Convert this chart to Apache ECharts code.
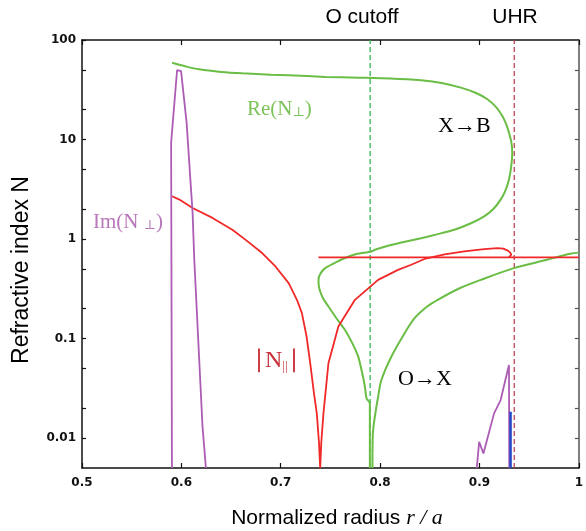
<!DOCTYPE html>
<html><head><meta charset="utf-8">
<script src="https://cdn.jsdelivr.net/npm/echarts@6/dist/echarts.min.js"></script>
<style>html,body{margin:0;padding:0;background:#fff}#c{width:586px;height:531px}</style>
</head><body><div id="c"></div>
<script>
// ---- tick values ----
const yLabelValues = [0.01, 0.1, 1, 10, 100];
const yTickValues = [0.01, 0.02, 0.05, 0.1, 0.2, 0.5, 1, 2, 5, 10, 20, 50, 100];

// ---- vertical reference lines ----
const oCutoffX = [0.79, 0.79];
const uhrX = [0.935, 0.935];
const refLineY = [0.005, 100];

// ---- Re(N_perp): X->B branch folding back to O cutoff ----
const reN1X = [0.5907, 0.605, 0.618, 0.64, 0.6613, 0.69, 0.708, 0.745, 0.778, 0.81, 0.8413, 0.862, 0.8813, 0.896, 0.908, 0.917, 0.923, 0.927, 0.9297, 0.932, 0.933, 0.932, 0.9297, 0.926, 0.9213, 0.914, 0.9047, 0.892, 0.8747, 0.858, 0.8413, 0.825, 0.808, 0.7947, 0.7913, 0.7747, 0.7647, 0.752, 0.7447, 0.740, 0.738, 0.7383, 0.7397, 0.743, 0.748, 0.756, 0.7647, 0.772, 0.778, 0.782, 0.7847, 0.7863, 0.7897, 0.7897];
const reN1Y = [59, 54, 50.7, 47.8, 46.2, 44.8, 44.2, 42.6, 41.8, 41.0, 39.3, 37.0, 33.2, 29.5, 25.4, 21.0, 17.2, 14.2, 11.7, 9.5, 7.36, 5.4, 3.96, 3.05, 2.49, 2.0, 1.69, 1.45, 1.24, 1.12, 1.02, 0.94, 0.856, 0.78, 0.75, 0.70, 0.644, 0.56, 0.51, 0.45, 0.389, 0.34, 0.297, 0.25, 0.21, 0.16, 0.122, 0.09, 0.0657, 0.045, 0.0328, 0.0251, 0.0223, 0.005];

// ---- Re(N_perp): O->X branch ----
const reN2X = [0.7923, 0.7927, 0.7947, 0.798, 0.8013, 0.8113, 0.8247, 0.8347, 0.848, 0.858, 0.88, 0.9013, 0.9347, 0.968, 0.9913, 1.0];
const reN2Y = [0.005, 0.011, 0.0163, 0.026, 0.0383, 0.0657, 0.113, 0.16, 0.212, 0.245, 0.32, 0.389, 0.51, 0.619, 0.711, 0.73];

// ---- |N_par| ----
const nPar1X = [0.5907, 0.598, 0.6113, 0.6313, 0.6513, 0.6647, 0.6813, 0.6947, 0.708, 0.7163, 0.7213, 0.726, 0.7297, 0.7335, 0.7363, 0.7385, 0.7397, 0.7408, 0.743, 0.748, 0.758, 0.7747, 0.798, 0.818, 0.8313, 0.8447, 0.865, 0.8847, 0.905, 0.918, 0.924, 0.928, 0.931, 0.932, 0.9297];
const nPar1Y = [2.69, 2.49, 2.05, 1.63, 1.24, 0.98, 0.723, 0.53, 0.36, 0.245, 0.18, 0.105, 0.0564, 0.028, 0.0177, 0.009, 0.005, 0.009, 0.0177, 0.0564, 0.132, 0.245, 0.389, 0.49, 0.551, 0.63, 0.70, 0.75, 0.79, 0.81, 0.80, 0.77, 0.73, 0.695, 0.653];
const nPar2X = [0.738, 1.0];
const nPar2Y = [0.653, 0.653];

// ---- Im(N_perp) ----
const imN1X = [0.5905, 0.5897, 0.5957, 0.5997, 0.6053, 0.6113, 0.613, 0.6213, 0.6247];
const imN1Y = [0.005, 9.3, 49.9, 48.6, 14.7, 1.83, 0.62, 0.013, 0.005];
const imN2X = [0.8973, 0.8997, 0.904, 0.9147, 0.9213, 0.9297, 0.9300];
const imN2Y = [0.005, 0.00916, 0.0070, 0.0177, 0.0241, 0.0542, 0.005];

// ---- blue spike ----
const blueX = [0.9313, 0.9313];
const blueY = [0.0184, 0.005];

const zip = (xs, ys) => xs.map((x, i) => [x, ys[i]]);

const axisColor = '#111';
const lineSeries = (xs, ys, color, width, extra) => Object.assign({
  type: 'line', data: zip(xs, ys), showSymbol: false, symbol: 'none',
  xAxisIndex: 0, yAxisIndex: 0, silent: true,
  lineStyle: { color: color, width: width }
}, extra || {});

const chart = echarts.init(document.getElementById('c'), null, { renderer: 'canvas' });

const tickFont = { fontFamily: 'DejaVu Sans', fontWeight: 'bold', fontSize: 12, color: '#111' };

chart.setOption({
  animation: false,
  backgroundColor: '#fff',
  grid: { left: 82, right: 4, top: 40, bottom: 63, containLabel: false },
  xAxis: [
    {
      type: 'value', min: 0.5, max: 1.0, interval: 0.1, position: 'bottom',
      axisLine: { show: true, onZero: false, lineStyle: { color: axisColor, width: 1.5 } },
      axisTick: { show: true, inside: true, length: 5, lineStyle: { color: axisColor, width: 1.2 } },
      axisLabel: Object.assign({ margin: 9, formatter: v => String(+v.toFixed(1)) }, tickFont),
      splitLine: { show: false }
    },
    {
      type: 'value', min: 0.5, max: 1.0, interval: 0.1, position: 'top',
      axisLine: { show: true, onZero: false, lineStyle: { color: axisColor, width: 1.5 } },
      axisTick: { show: true, inside: true, length: 5, lineStyle: { color: axisColor, width: 1.2 } },
      axisLabel: { show: false },
      splitLine: { show: false }
    }
  ],
  yAxis: [
    {
      type: 'log', logBase: 10, min: 0.005, max: 100, position: 'left',
      axisLine: { show: true, onZero: false, lineStyle: { color: axisColor, width: 1.5 } },
      axisTick: { show: true, inside: true, length: 4, customValues: yTickValues, lineStyle: { color: axisColor, width: 1.2 } },
      axisLabel: Object.assign({ margin: 6, customValues: yLabelValues, formatter: v => String(v) }, tickFont),
      splitLine: { show: false }, minorTick: { show: false }
    },
    {
      type: 'log', logBase: 10, min: 0.005, max: 100, position: 'right',
      axisLine: { show: true, onZero: false, lineStyle: { color: '#555', width: 1.5 } },
      axisTick: { show: true, inside: true, length: 4, customValues: yTickValues, lineStyle: { color: '#555', width: 1.2 } },
      axisLabel: { show: false },
      splitLine: { show: false }, minorTick: { show: false }
    }
  ],
  series: [
    lineSeries(oCutoffX, refLineY, '#2fb84c', 1.3, { lineStyle: { color: '#2fb84c', width: 1.3, type: [5, 3] } }),
    lineSeries(uhrX, refLineY, '#b8454e', 1.3, { lineStyle: { color: '#b8454e', width: 1.3, type: [5, 3] } }),
    lineSeries(reN1X, reN1Y, '#6abd45', 2, { smooth: 0.2 }),
    lineSeries(reN2X, reN2Y, '#6abd45', 2, { smooth: 0.3 }),
    lineSeries(nPar1X, nPar1Y, '#f02828', 1.8),
    lineSeries(nPar2X, nPar2Y, '#f02828', 1.8),
    lineSeries(imN1X, imN1Y, '#ac5cb4', 1.8),
    lineSeries(imN2X, imN2Y, '#ac5cb4', 1.8),
    lineSeries(blueX, blueY, '#2648c8', 2.5)
  ],
  graphic: [
    { type: 'text', x: 362, y: 17, silent: true,
      style: { text: 'O cutoff', font: '21px "Liberation Sans", Arial, sans-serif', fill: '#000', textAlign: 'center', textVerticalAlign: 'middle' } },
    { type: 'text', x: 515, y: 17, silent: true,
      style: { text: 'UHR', font: '21px "Liberation Sans", Arial, sans-serif', fill: '#000', textAlign: 'center', textVerticalAlign: 'middle' } },
    { type: 'text', x: 22, y: 270, rotation: Math.PI / 2, silent: true,
      style: { text: 'Refractive index N', font: '23px "Liberation Sans", Arial, sans-serif', fill: '#000', textAlign: 'center', textVerticalAlign: 'middle' } },
    { type: 'text', x: 337, y: 518, silent: true,
      style: { text: '{a|Normalized radius }{b|r / a}', textAlign: 'center', textVerticalAlign: 'middle',
        rich: { a: { font: '21px "Liberation Sans", Arial, sans-serif', fill: '#000' },
                b: { font: 'italic 22px "Liberation Serif", serif', fill: '#000' } } } },
    { type: 'text', x: 247, y: 109, silent: true,
      style: { text: '{a|Re(N}{s|⊥}{a|)}', textAlign: 'left', textVerticalAlign: 'middle',
        rich: { a: { font: '21px "Liberation Serif", serif', fill: '#7dc35a' },
                s: { font: '13px "DejaVu Serif", serif', fill: '#7dc35a', verticalAlign: 'bottom', padding: [8, 0, 0, 0] } } } },
    { type: 'text', x: 93, y: 222, silent: true,
      style: { text: '{a|Im(N }{s|⊥}{a|)}', textAlign: 'left', textVerticalAlign: 'middle',
        rich: { a: { font: '21px "Liberation Serif", serif', fill: '#b877b8' },
                s: { font: '13px "DejaVu Serif", serif', fill: '#b877b8', verticalAlign: 'bottom', padding: [8, 0, 0, 0] } } } },
    { type: 'text', x: 253, y: 361, silent: true,
      style: { text: '{a|∣N}{s|||}{a|∣}', textAlign: 'left', textVerticalAlign: 'middle',
        rich: { a: { font: '24px "Liberation Serif", serif', fill: '#c8323c' },
                s: { font: '13px "Liberation Serif", serif', fill: '#c8323c', verticalAlign: 'bottom', padding: [8, 0, 0, 0] } } } },
    { type: 'text', x: 438, y: 126, silent: true,
      style: { text: 'X→B', font: '22px "Liberation Serif", serif', fill: '#000', textAlign: 'left', textVerticalAlign: 'middle' } },
    { type: 'text', x: 398, y: 379, silent: true,
      style: { text: 'O→X', font: '22px "Liberation Serif", serif', fill: '#000', textAlign: 'left', textVerticalAlign: 'middle' } }
  ]
});
</script>
</body></html>
